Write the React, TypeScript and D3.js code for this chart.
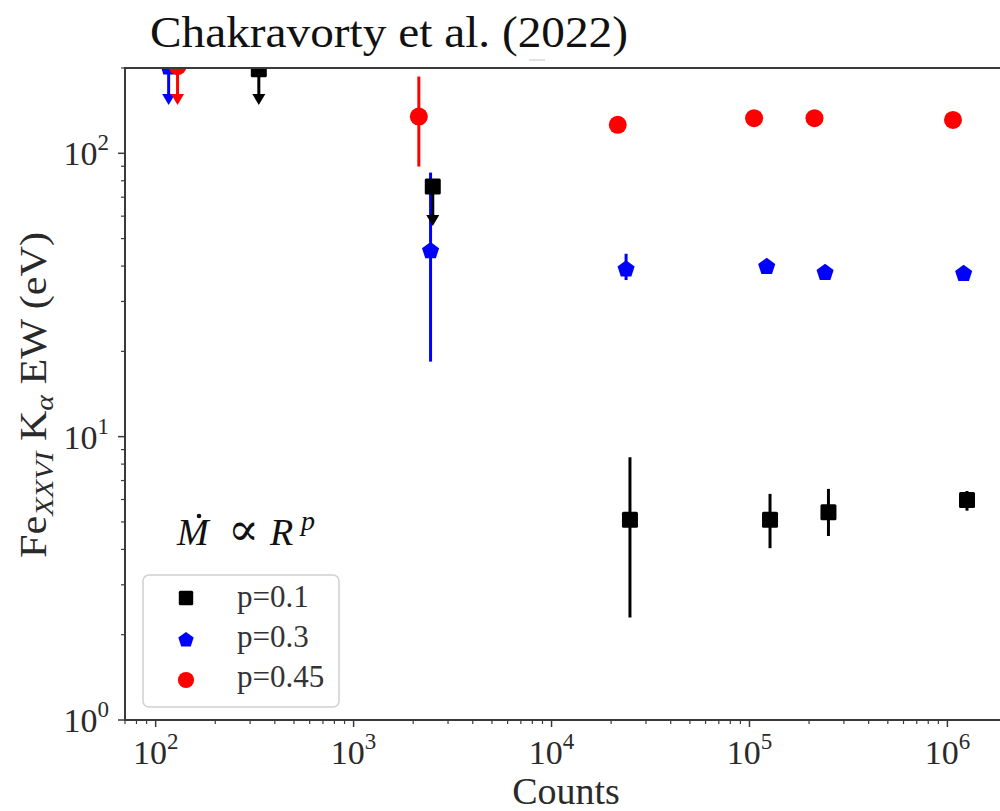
import React from "react";
import * as d3 from "d3";

// ---------- data ----------
// p = 0.1 (black squares)
const p01Counts = [24900, 127000, 250600, 1256000];
const p01EW = [5.09, 5.09, 5.41, 5.98];
const p01Lo = [2.3, 4.04, 4.46, 5.48];
const p01Hi = [8.46, 6.28, 6.54, 6.43];
const p01UlCounts = [332, 2512];
const p01UlEW = [198, 76.3];
const p01UlTo = [148, 55.4];

// p = 0.3 (blue pentagons)
const p03Counts = [2448, 23800, 122200, 241000, 1208000];
const p03EW = [45.6, 39.3, 40.1, 38.2, 37.9];
const p03Lo = [18.4, 35.7, 40.1, 38.2, 37.9];
const p03Hi = [85.5, 44.2, 40.1, 38.2, 37.9];
const p03UlCounts = [116.3];
const p03UlEW = [203];
const p03UlTo = [148];

// p = 0.45 (red circles)
const p045Counts = [2136, 21600, 105500, 213000, 1067000];
const p045EW = [134.8, 126, 133, 133, 131.2];
const p045Lo = [89.8, 126, 133, 133, 131.2];
const p045Hi = [186.6, 126, 133, 133, 131.2];
const p045UlCounts = [129];
const p045UlEW = [203];
const p045UlTo = [148];

const legendLabels = ["p=0.1", "p=0.3", "p=0.45"];
const xMajorTicks = [1e2, 1e3, 1e4, 1e5, 1e6];
const yMajorTicks = [1e0, 1e1, 1e2];

// ---------- layout ----------
const W = 1000;
const H = 811;
const L = 125, R = 1007, T = 68, B = 720;
const AX = "#3a3a3a";
const TXT = "#2a2a2a";
const FONT = "'Liberation Serif', 'DejaVu Serif', serif";

const x = d3.scaleLog().domain([70, 2e6]).range([L, R]);
const y = d3.scaleLog().domain([1, 200]).range([B, T]);

type Series = {
  color: string;
  shape: "square" | "pentagon" | "circle";
  counts: number[];
  ew: number[];
  lo: number[];
  hi: number[];
  ulCounts: number[];
  ulEW: number[];
  ulTo: number[];
};

const series: Series[] = [
  { color: "#0000ff", shape: "pentagon", counts: p03Counts, ew: p03EW, lo: p03Lo, hi: p03Hi, ulCounts: p03UlCounts, ulEW: p03UlEW, ulTo: p03UlTo },
  { color: "#000000", shape: "square", counts: p01Counts, ew: p01EW, lo: p01Lo, hi: p01Hi, ulCounts: p01UlCounts, ulEW: p01UlEW, ulTo: p01UlTo },
  { color: "#ff0000", shape: "circle", counts: p045Counts, ew: p045EW, lo: p045Lo, hi: p045Hi, ulCounts: p045UlCounts, ulEW: p045UlEW, ulTo: p045UlTo },
];

function pentagonPath(r: number) {
  const pts: [number, number][] = [];
  for (let i = 0; i < 5; i++) {
    const a = -Math.PI / 2 + (i * 2 * Math.PI) / 5;
    pts.push([r * Math.cos(a), r * Math.sin(a)]);
  }
  return "M" + pts.map((p) => p.join(",")).join("L") + "Z";
}

function Marker({ shape, color, cx, cy, size = 1 }: { shape: string; color: string; cx: number; cy: number; size?: number }) {
  if (shape === "square") {
    const s = 16 * size;
    return <rect x={cx - s / 2} y={cy - s / 2} width={s} height={s} rx={1.5} fill={color} />;
  }
  if (shape === "pentagon") {
    return <path d={pentagonPath(9 * size)} transform={`translate(${cx},${cy + 1})`} fill={color} />;
  }
  return <circle cx={cx} cy={cy} r={9 * size} fill={color} />;
}

function Arrow({ cx, tipY, color }: { cx: number; tipY: number; color: string }) {
  const w = 13, h = 11;
  return <path d={`M${cx - w / 2},${tipY - h}L${cx + w / 2},${tipY - h}L${cx},${tipY}Z`} fill={color} />;
}

export default function App() {
  const allTicksX = x.ticks();
  const minorX = allTicksX.filter((t) => Math.abs(Math.log10(t) - Math.round(Math.log10(t))) > 1e-6);
  const allTicksY = y.ticks();
  const minorY = allTicksY.filter((t) => Math.abs(Math.log10(t) - Math.round(Math.log10(t))) > 1e-6);

  return (
    <svg width={W} height={H} style={{ display: "block", position: "absolute", left: 0, top: 0, background: "#fff" }} fontFamily={FONT}>
      <rect x={0} y={0} width={W} height={H} fill="#fff" />
      <defs>
        <clipPath id="plotclip">
          <rect x={L} y={T} width={R - L} height={B - T} />
        </clipPath>
      </defs>

      {/* title */}
      <text x={150} y={47} fontSize={45} fill="#111" textLength={478} lengthAdjust="spacingAndGlyphs">Chakravorty et al. (2022)</text>
      <line x1={529} x2={545} y1={60} y2={60} stroke="#d8d8d8" strokeWidth={1.5} />

      {/* data */}
      <g clipPath="url(#plotclip)">
        {/* error bars */}
        {series.map((s, si) => (
          <g key={"e" + si}>
            {s.counts.map((c, i) =>
              s.hi[i] !== s.lo[i] ? (
                <line key={i} x1={x(c)} x2={x(c)} y1={y(s.hi[i])} y2={y(s.lo[i])} stroke={s.color} strokeWidth={3} />
              ) : null
            )}
            {s.ulCounts.map((c, i) => (
              <g key={"u" + i}>
                <line x1={x(c)} x2={x(c)} y1={y(s.ulEW[i])} y2={y(s.ulTo[i]) - 6} stroke={s.color} strokeWidth={3} />
                <Arrow cx={x(c)} tipY={y(s.ulTo[i])} color={s.color} />
              </g>
            ))}
          </g>
        ))}
        {/* markers */}
        {series.map((s, si) => (
          <g key={"m" + si}>
            {s.counts.map((c, i) => (
              <Marker key={i} shape={s.shape} color={s.color} cx={x(c)} cy={y(s.ew[i])} />
            ))}
            {s.ulCounts.map((c, i) => (
              <Marker key={"u" + i} shape={s.shape} color={s.color} cx={x(c)} cy={y(s.ulEW[i])} />
            ))}
          </g>
        ))}
      </g>

      {/* spines */}
      <line x1={L} x2={L} y1={T} y2={B + 1} stroke={AX} strokeWidth={2} />
      <line x1={L - 1} x2={R} y1={B} y2={B} stroke={AX} strokeWidth={2} />
      <line x1={L - 1} x2={R} y1={T} y2={T} stroke={AX} strokeWidth={2} />
      <line x1={R} x2={R} y1={T} y2={B} stroke={AX} strokeWidth={2} />

      {/* x ticks */}
      {xMajorTicks.map((t) => (
        <g key={"xM" + t}>
          <line x1={x(t)} x2={x(t)} y1={B} y2={B + 7} stroke={AX} strokeWidth={1.5} />
          <text x={x(t)} y={764} textAnchor="middle" fontSize={34} fill={TXT}>
            10<tspan dy={-15} fontSize={23}>{Math.round(Math.log10(t))}</tspan>
          </text>
        </g>
      ))}
      {minorX.map((t) => (
        <line key={"xm" + t} x1={x(t)} x2={x(t)} y1={B} y2={B + 4} stroke={AX} strokeWidth={1.2} />
      ))}

      {/* y ticks */}
      {yMajorTicks.map((t) => (
        <g key={"yM" + t}>
          <line x1={L - 7} x2={L} y1={y(t)} y2={y(t)} stroke={AX} strokeWidth={1.5} />
          <text x={109} y={y(t) + 12} textAnchor="end" fontSize={34} fill={TXT}>
            10<tspan dy={-15} fontSize={23}>{Math.round(Math.log10(t))}</tspan>
          </text>
        </g>
      ))}
      {minorY.map((t) => (
        <line key={"ym" + t} x1={L - 4} x2={L} y1={y(t)} y2={y(t)} stroke={AX} strokeWidth={1.2} />
      ))}

      {/* axis labels */}
      <text x={566} y={804} textAnchor="middle" fontSize={38} fill={TXT}>Counts</text>
      <g transform="translate(46,395) rotate(-90)">
        <text x={-163} y={0} fontSize={37} fill={TXT} textLength={326} lengthAdjust="spacingAndGlyphs">
          Fe<tspan dy={7} fontSize={26} fontStyle="italic">XXVI</tspan>
          <tspan dy={-7}> K</tspan>
          <tspan dy={7} fontSize={26} fontStyle="italic">α</tspan>
          <tspan dy={-7}> EW (eV)</tspan>
        </text>
      </g>

      {/* annotation */}
      <text x={177} y={545} fontSize={38} fontStyle="italic" fill="#111">M</text>
      <circle cx={199} cy={516} r={2.3} fill="#111" />
      <text x={228} y={545} fontSize={46} fill="#111">∝</text>
      <text x={270} y={545} fontSize={38} fontStyle="italic" fill="#111">R</text>
      <text x={301} y={530} fontSize={28} fontStyle="italic" fill="#111">p</text>

      {/* legend */}
      <rect x={143} y={575} width={196} height={132} rx={6} fill="#fff" fillOpacity={0.8} stroke="#d0d0d0" strokeWidth={1.5} />
      {series.length === 3 &&
        [series[1], series[0], series[2]].map((s, i) => (
          <g key={"lg" + i}>
            <Marker shape={s.shape} color={s.color} cx={186} cy={598 + i * 41} size={0.9} />
            <text x={237} y={607 + i * 40} fontSize={31} fill="#333">{legendLabels[i]}</text>
          </g>
        ))}
    </svg>
  );
}
